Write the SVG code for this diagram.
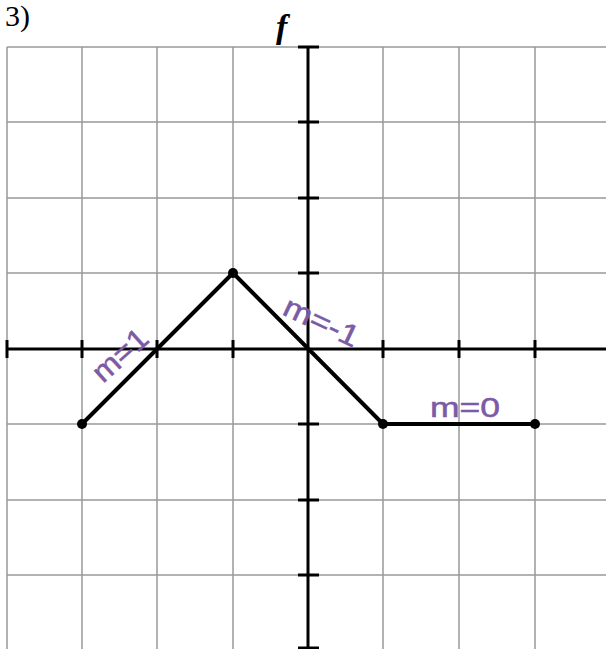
<svg xmlns="http://www.w3.org/2000/svg" width="606" height="649" viewBox="0 0 606 649">
<style>
.grid{stroke:#999;stroke-width:1.5;fill:none}
.axis{stroke:#000;stroke-width:3;fill:none}
.tick{stroke:#000;stroke-width:3}
.graph{stroke:#000;stroke-width:4;fill:none;stroke-linejoin:round}
.dot{fill:#000}
.note{fill:#7b5aa6;stroke:#7b5aa6;stroke-width:0.5;font-family:"Liberation Sans",sans-serif;font-weight:normal}
.serif{font-family:"Liberation Serif",serif;fill:#000}
</style>
<rect width="606" height="649" fill="#fff"/>
<text class="serif" x="5" y="26" font-size="30">3)</text>
<text class="serif" x="276" y="38" font-size="34" font-weight="bold" font-style="italic">f</text>
<g id="grid" class="grid">
<path d="M7,47V649M82,47V649M157,47V649M233,47V649M383,47V649M459,47V649M535,47V649"/>
<path d="M7,47H606M7,122H606M7,198H606M7,273H606M7,424H606M7,500H606M7,575H606"/>
</g>
<g id="axes">
<path class="axis" d="M7,349H606M308,47V649"/>
<path class="tick" d="M298,47H319M298,122H319M298,198H319M298,273H319M298,424H319M298,500H319M298,575H319M298,648H319"/>
<path class="tick" d="M7,340V358M82,340V358M157,340V358M233,340V358M383,340V358M459,340V358M535,340V358"/>
</g>
<g id="connectors">
<path class="graph" d="M82,424L233,273L383,424H535"/>
</g>
<g id="p1"><circle class="dot" cx="82" cy="424" r="5"/></g>
<g id="p2"><circle class="dot" cx="233" cy="273" r="5"/></g>
<g id="p3"><circle class="dot" cx="383" cy="424" r="5"/></g>
<g id="p4"><circle class="dot" cx="535" cy="424" r="5"/></g>
<g id="labels">
<text class="note" font-size="30" transform="translate(103,384) rotate(-42)" textLength="64" lengthAdjust="spacingAndGlyphs">m=1</text>
<text class="note" font-size="30" transform="translate(281,314) rotate(25)" textLength="80" lengthAdjust="spacingAndGlyphs">m=-1</text>
<text class="note" font-size="28" x="430" y="417" textLength="70" lengthAdjust="spacingAndGlyphs">m=0</text>
</g>
</svg>
